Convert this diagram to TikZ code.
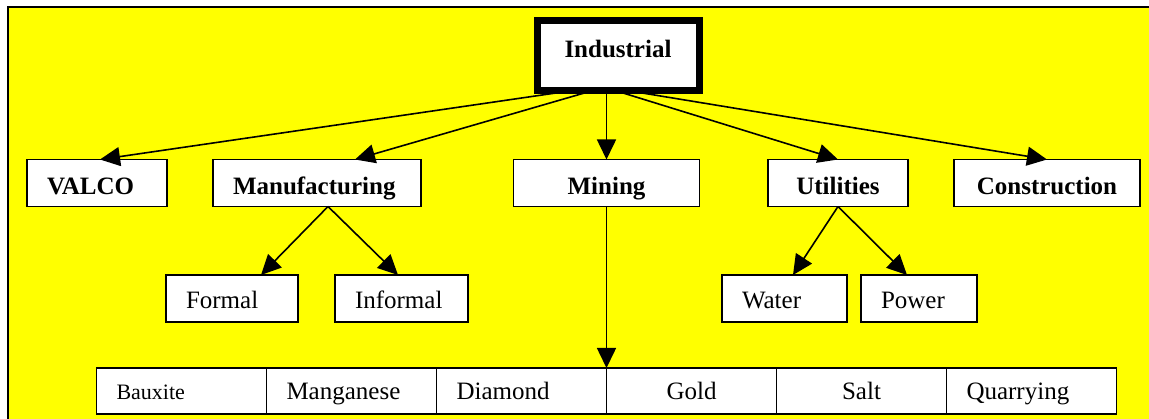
\documentclass[tikz,border=0pt]{standalone}
\usepackage{fontspec}
\setmainfont{Liberation Serif}
\usetikzlibrary{arrows.meta,calc,positioning}

\definecolor{bgyellow}{RGB}{255,255,0}

\tikzset{
  box/.style={draw, fill=white, line width=1.6pt, inner xsep=20pt, inner ysep=0pt, outer sep=0pt},
  headbox/.style={box, font=\bfseries\fontsize{25}{30}\selectfont, text height=31pt, text depth=8pt, minimum height=47pt},
  subbox/.style={box, font=\fontsize{25}{30}\selectfont, align=left, text height=27pt, text depth=6pt, minimum height=47pt},
  cellbox/.style={box, font=\fontsize{25}{30}\selectfont, text height=24pt, text depth=6pt, minimum height=46pt, text width=130pt},
  link/.style={line width=1.6pt, -{Triangle[length=20pt,width=19pt]}}
}

\begin{document}
\begin{tikzpicture}[x=1pt, y=-1pt]

  \useasboundingbox (0,0) rectangle (1149,419);
  \fill[white] (0,0) rectangle (1149,419);
  \filldraw[fill=bgyellow, draw=black, line width=1.3pt] (8,7) rectangle (1180,440); % Frame

  % Top node
  \node[draw, fill=white, line width=7pt, outer sep=0pt, font=\bfseries\fontsize{25}{30}\selectfont,
    minimum width=162pt, minimum height=70pt, inner sep=0pt, text height=17pt, text depth=12pt]
    (ind) at (618,55.5) {Industrial};

  % Sectors
  \node[headbox, text width=100pt, align=left] (valco) at (97,183) {VALCO};
  \node[headbox, text width=168pt, align=left] (manu) at (317,183) {Manufacturing};
  \node[headbox, minimum width=186pt] (mine) at (606.5,183) {Mining};
  \node[headbox, minimum width=140pt] (util) at (838,183) {Utilities};
  \node[headbox, minimum width=186pt] (cons) at (1047,183) {Construction};

  % Sub-sectors
  \node[subbox, text width=92pt] (formal) at (232,298.5) {Formal};
  \node[subbox, text width=93pt] (informal) at (401.5,298.5) {Informal};
  \node[subbox, text width=85pt] (water) at (784.5,298.5) {Water};
  \node[subbox, text width=76pt] (power) at (919,298.5) {Power};

  % Minerals row
  \node[cellbox, align=left, font=\fontsize{22}{26}\selectfont] (c1) at (181.5,391) {Bauxite};
  \foreach \i/\j/\txt/\al in {2/1/Manganese/left, 3/2/Diamond/left, 4/3/Gold/center, 5/4/Salt/center, 6/5/Quarrying/left}
  {
    \node[cellbox, align=\al, right=0pt of c\j] (c\i) {\txt};
  }

  % Arrows from the top
  \draw[link] ($(ind.south)+(-45,0)$) -- ($(valco.north)+(3,0)$);
  \draw[link] ($(ind.south)+(-25,0)$) -- ($(manu.north)+(38,0)$);
  \draw[link] (ind.south -| mine.north) -- (mine.north);
  \draw[link] ($(ind.south)+(-3,0)$) -- (util.north);
  \draw[link] ($(ind.south)+(9,0)$) -- (cons.north);

  % Arrows below the sectors
  \draw[link] ($(manu.south)+(11,0)$) -- ($(formal.north)+(29,0)$);
  \draw[link] ($(manu.south)+(11,0)$) -- ($(informal.north)+(-3.5,0)$);
  \draw[link] (mine.south) -- (mine.south |- c4.north);
  \draw[link] (util.south) -- ($(water.north)+(8.5,0)$);
  \draw[link] (util.south) -- ($(power.north)+(-12,0)$);

\end{tikzpicture}
\end{document}
